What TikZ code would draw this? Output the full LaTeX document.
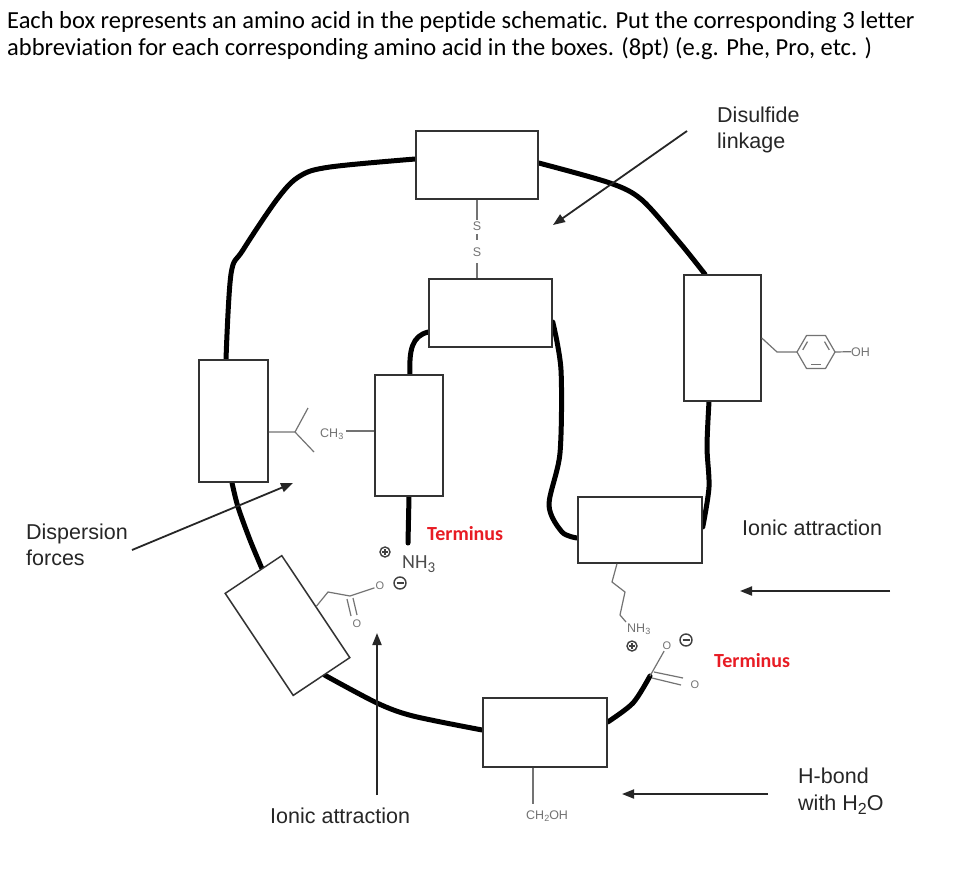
\documentclass[tikz,border=0pt]{standalone}
\usepackage{fontspec}
\setmainfont{Carlito}[Ligatures=NoCommon]
\newfontfamily\labf{Liberation Sans}
\usetikzlibrary{arrows.meta,calc,backgrounds}
\definecolor{termred}{RGB}{232,28,36}
\newcommand\lowsub[1]{\raisebox{-2.8pt}{\fontsize{9}{9}\selectfont #1}}
\begin{document}
\begin{tikzpicture}[x=1pt,y=-1pt,
  box/.style={draw=black!80,line width=1.5pt,fill=white,inner sep=0pt},
  chain/.style={line width=5pt,line cap=round,line join=round},
  chem/.style={draw=black!55,line width=1.2pt},
  arr/.style={line width=1.8pt,draw=black!85,-{Triangle[length=12pt,width=9pt]}},
  lab/.style={font=\labf\fontsize{21.5}{26}\selectfont,text=black!85,inner sep=0pt,anchor=base west},
  hdr/.style={font=\fontsize{24.5}{27}\selectfont,inner sep=0pt,anchor=base west},
  term/.style={font=\bfseries\fontsize{20}{24}\selectfont,text=termred,inner sep=0pt,anchor=base west},
  chemtxt/.style={font=\labf\fontsize{12.5}{14}\selectfont,text=black!55,inner sep=0pt},
  otxt/.style={font=\labf\fontsize{11}{12}\selectfont,text=black!55,inner sep=1pt},
  chg/.style={circle,draw=black!75,line width=1.4pt,minimum size=10pt,inner sep=0pt},
  chgl/.style={draw=black!75,line width=1.4pt}
]
\useasboundingbox (0,0) rectangle (975,873);

% header
\node[hdr] (h1) at (7,28) {Each box represents an amino acid in the peptide schematic. Put the corresponding 3 letter};
\node[hdr] (h2) at (7,55) {abbreviation for each corresponding amino acid in the boxes. (8pt) (e.g. Phe, Pro, etc. )};

% boxes
\node[box,minimum width=122pt,minimum height=68pt] (bA) at (477,165) {};
\node[box,minimum width=123pt,minimum height=68pt] (bB) at (490.5,313) {};
\node[box,minimum width=77pt,minimum height=126pt] (bC) at (722.5,338) {};
\node[box,minimum width=69pt,minimum height=122pt] (bD) at (233.5,421) {};
\node[box,minimum width=68pt,minimum height=121pt] (bE) at (409,435.5) {};
\node[box,minimum width=124pt,minimum height=66pt] (bF) at (640,530) {};
\node[box,minimum width=68pt,minimum height=122.6pt,rotate=33.7] (bG) at (287.5,625.5) {};
\node[box,minimum width=124pt,minimum height=69pt] (bH) at (545,732.5) {};

\coordinate (nh) at (408,543);
\coordinate (cL) at (650,676);
\coordinate (cA) at (350,596);

% backbone chain
\begin{scope}[on background layer]
\fill[white] (0,0) rectangle (975,873);
\draw[chain] plot[smooth,tension=0.55] coordinates {([yshift=6pt]bA.west) (330,167) (300,176) (278,198) (243,250) (231,274) ([xshift=-7.5pt]bD.north)};
\draw[chain] plot[smooth,tension=0.5] coordinates {([yshift=2pt]bA.east) (610,183) (642,200) (680,243) ([xshift=-17.5pt]bC.north)};
\draw[chain] ([yshift=-19pt]bB.west) .. controls (412,336) and (409,350) .. ([xshift=1pt]bE.north);
\draw[chain] plot[smooth,tension=0.5] coordinates {([yshift=-9pt]bB.east) (561,370) (560,453) (549,505) (562,532) ([yshift=-8pt]bF.west)};
\draw[chain] plot[smooth,tension=0.5] coordinates {([xshift=-13.5pt]bC.south) (707,447) (709,487) ([yshift=3pt]bF.east)};
\draw[chain] plot[smooth,tension=0.5] coordinates {([xshift=-1.5pt]bD.south) (238,507) (250,540) ($(bG.north)!0.3!(bG.north east)$)};
\draw[chain] plot[smooth,tension=0.5] coordinates {($(bG.south)!0.1!(bG.south east)$) (377,703) (413,716) ([yshift=2.5pt]bH.west)};
\draw[chain] (bE.south) -- (nh);
\draw[chain] plot[smooth,tension=0.5] coordinates {([yshift=10.5pt]bH.east) (633,703) (cL)};
\end{scope}

% disulfide
\node[chemtxt,anchor=base] (s1) at (477,230.5) {S};
\node[chemtxt,anchor=base] (s2) at (477,256.5) {S};
\draw[chem] (bA.south) -- ([yshift=1.5pt]s1.north);
\draw[chem] ([yshift=-3.5pt]s1.south) -- ([yshift=7.5pt]s2.north);
\draw[chem] ([yshift=-6.5pt]s2.south) -- ([xshift=-13.5pt]bB.north);

% tyrosine side chain
\coordinate (rg) at (816,352);
\draw[chem] (bC.east) -- (777,352) -- ($(rg)+(180:19)$);
\draw[chem,line join=round] ($(rg)+(0:19)$) -- ($(rg)+(60:19)$) -- ($(rg)+(120:19)$) -- ($(rg)+(180:19)$) -- ($(rg)+(240:19)$) -- ($(rg)+(300:19)$) -- cycle;
\draw[chem,shorten <=2.5pt,shorten >=2.5pt] ($(rg)+(60:14.5)$) -- ($(rg)+(120:14.5)$);
\draw[chem,shorten <=2.5pt,shorten >=2.5pt] ($(rg)+(180:14.5)$) -- ($(rg)+(240:14.5)$);
\draw[chem,shorten <=2.5pt,shorten >=2.5pt] ($(rg)+(300:14.5)$) -- ($(rg)+(0:14.5)$);
\node[chemtxt,anchor=base west] (oh) at (851,356) {OH};
\draw[chem] ($(rg)+(0:19)$) -- (oh.west);

% valine-like side chain and CH3
\draw[chem] ([yshift=-11pt]bD.east) -- (295,432) -- (308,408);
\draw[chem] (295,432) -- (314,452);
\node[chemtxt,anchor=base west] (ch3) at (320,437) {CH\lowsub{3}};
\draw[chem] ([xshift=3pt]ch3.east |- 0,431) -- (bE.west |- 0,431);

% N-terminus
\node[font=\fontsize{20}{24}\selectfont,text=black!70,inner sep=0pt,anchor=base west] (nh3a) at (402,568) {NH\raisebox{-4pt}{\fontsize{15}{15}\selectfont 3}};
\node[term] (t1) at (427,540) {Terminus};
\node[chg] (p1) at (385,552) {};
\draw[chgl] ([xshift=-3pt]p1.center) -- ([xshift=3pt]p1.center) ([yshift=-3pt]p1.center) -- ([yshift=3pt]p1.center);

% aspartate side chain
\draw[chem,line join=round] (bG.east) -- (328,592) -- (cA);
\node[otxt] (oa1) at (380,586) {O};
\node[otxt] (oa2) at (357,624) {O};
\draw[chem] (cA) -- (oa1);
\draw[chem] (347,599) -- (351,616);
\draw[chem] (353,598) -- (357,615);
\node[chg,minimum size=12pt] (m1) at (400,583) {};
\draw[chgl] ([xshift=-3.5pt]m1.center) -- ([xshift=3.5pt]m1.center);

% lysine side chain
\draw[chem,line join=round] ([xshift=-23pt]bF.south) -- (612,582) -- (625,592) -- (620,615) -- (626,622);
\node[chemtxt,anchor=base west] (nhL) at (627,632) {NH\lowsub{3}};
\node[chg] (p2) at (632,646) {};
\draw[chgl] ([xshift=-3pt]p2.center) -- ([xshift=3pt]p2.center) ([yshift=-3pt]p2.center) -- ([yshift=3pt]p2.center);

% C-terminus carboxylate
\node[otxt] (ol1) at (667,646) {O};
\node[otxt] (ol2) at (695,685) {O};
\draw[chem] (cL) -- (ol1);
\draw[chem] (654,672) -- (683,678);
\draw[chem] (652,678) -- (681,685);
\node[chg,minimum size=12pt] (m2) at (686,640) {};
\draw[chgl] ([xshift=-3.5pt]m2.center) -- ([xshift=3.5pt]m2.center);
\node[term] (t2) at (714,667) {Terminus};

% serine side chain
\node[chemtxt,anchor=base west] (ch2) at (526,819) {CH\lowsub{2}OH};
\draw[chem] ([xshift=-12pt]bH.south) -- ++(0,36);

% labels
\node[lab] (dis1) at (717,122) {Disulfide};
\node[lab] (dis2) at (717,148) {linkage};
\node[lab] (dp1) at (26,539) {Dispersion};
\node[lab] (dp2) at (26,565) {forces};
\node[lab] (ion1) at (742,535) {Ionic attraction};
\node[lab] (ion2) at (270,823) {Ionic attraction};
\node[lab] (hb1) at (798,783) {H-bond};
\node[lab] (hb2) at (798,810) {with H\raisebox{-4pt}{\fontsize{16}{16}\selectfont 2}O};

% arrows
\coordinate (aD1) at (687,131); \coordinate (aD2) at (553,225);
\coordinate (aP1) at (132,550); \coordinate (aP2) at (293,483);
\coordinate (aI1) at (890,591); \coordinate (aI2) at (740,591);
\coordinate (aJ1) at (377,795); \coordinate (aJ2) at (377,633);
\coordinate (aH1) at (768,794); \coordinate (aH2) at (622,794);
\draw[arr] (aD1) -- (aD2);
\draw[arr] (aP1) -- (aP2);
\draw[arr] (aI1) -- (aI2);
\draw[arr] (aJ1) -- (aJ2);
\draw[arr] (aH1) -- (aH2);
\end{tikzpicture}
\end{document}
